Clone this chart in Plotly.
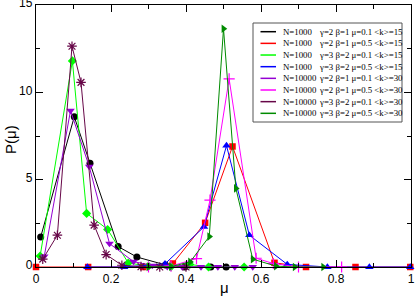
import plotly.graph_objects as go

# ---------------- data ----------------
x_black = [0.0125, 0.102, 0.144, 0.219, 0.269, 0.345, 0.397, 0.466, 0.507]
y_black = [1.72, 8.6, 5.94, 1.17, 0.57, 0.12, 0.0, 0.0, 0.0]

x_red = [0.0, 0.139, 0.286, 0.365, 0.451, 0.524, 0.636, 0.72, 0.852, 0.998]
y_red = [0.0, 0.0, 0.0, 0.2, 2.53, 6.9, 0.24, 0.0, 0.0, 0.0]

x_lime = [0.011, 0.097, 0.135, 0.191, 0.246, 0.30, 0.36, 0.41, 0.46, 0.555]
y_lime = [0.63, 11.8, 3.07, 2.15, 0.23, 0.05, 0.02, 0.15, 0.0, 0.0]

x_blue = [0.137, 0.235, 0.344, 0.448, 0.508, 0.569, 0.670, 0.777, 0.889, 0.998]
y_blue = [0.0, 0.0, 0.18, 2.3, 6.95, 1.82, 0.15, 0.0, 0.0, 0.0]

x_violet = [0.022, 0.092, 0.142, 0.196, 0.26, 0.31, 0.35, 0.39, 0.44, 0.485, 0.53, 0.578]
y_violet = [0.61, 8.95, 5.75, 1.34, 0.31, 0.08, 0.02, 0.0, 0.0, 0.0, 0.0, 0.0]

x_magenta = [0.30, 0.36, 0.428, 0.464, 0.515, 0.587, 0.633, 0.70, 0.815]
y_magenta = [0.0, 0.05, 0.48, 3.83, 10.77, 0.5, 0.2, 0.0, 0.0]

x_maroon = [0.018, 0.057, 0.096, 0.120, 0.155, 0.187, 0.229, 0.28, 0.33, 0.40]
y_maroon = [0.45, 1.82, 12.64, 10.57, 2.4, 0.71, 0.1, 0.02, 0.0, 0.0]

x_green4 = [0.30, 0.36, 0.411, 0.462, 0.500, 0.533, 0.578, 0.64, 0.69, 0.766]
y_green4 = [0.0, 0.02, 0.29, 1.74, 13.64, 4.5, 0.45, 0.05, 0.0, 0.0]

labels_n = ["N=1000", "N=1000", "N=1000", "N=1000",
            "N=10000", "N=10000", "N=10000", "N=10000"]
labels_p = ["γ=2 β=1 μ=0.1 <k>=15", "γ=2 β=1 μ=0.5 <k>=15",
            "γ=3 β=2 μ=0.1 <k>=15", "γ=3 β=2 μ=0.5 <k>=15",
            "γ=2 β=1 μ=0.1 <k>=30", "γ=2 β=1 μ=0.5 <k>=30",
            "γ=3 β=2 μ=0.1 <k>=30", "γ=3 β=2 μ=0.5 <k>=30"]

xs = [x_black, x_red, x_lime, x_blue, x_violet, x_magenta, x_maroon, x_green4]
ys = [y_black, y_red, y_lime, y_blue, y_violet, y_magenta, y_maroon, y_green4]

colors = ["#000000", "#ff0000", "#00ff00", "#0000ff",
          "#9400d3", "#ff00ff", "#670748", "#008b00"]
symbols = ["circle", "square", "diamond", "triangle-up",
           "triangle-down", "cross-thin-open", "asterisk-open", "triangle-right"]
sizes = [7, 6.5, 7, 7.5, 7.5, 8, 8, 7.5]

# ---------------- geometry ----------------
W, H = 415, 296
L, R, T, B = 36, 4, 5, 29
PW, PH = W - L - R, H - T - B


def fx(px):
    return (px - L) / PW


def fy(py):
    return (H - B - py) / PH


fig = go.Figure()

for i in range(8):
    is_line_sym = symbols[i] in ("cross-thin-open", "asterisk-open")
    fig.add_trace(go.Scatter(
        x=xs[i], y=ys[i], mode="lines+markers", showlegend=False,
        cliponaxis=False,
        line=dict(color=colors[i], width=1),
        marker=dict(symbol=symbols[i], size=sizes[i], color=colors[i],
                    line=dict(color=colors[i], width=1.2 if is_line_sym else 0)),
    ))

# ---------------- custom compact legend ----------------
row0, dy = 31.7, 11.66
gx0, gx1 = 260.5, 276.0
LEG_FONT = dict(family="Liberation Serif", size=8.8, color="black")
shapes = [dict(type="rect", xref="paper", yref="paper",
               x0=fx(253), x1=fx(402), y0=fy(122), y1=fy(23),
               line=dict(color="#555555", width=1), fillcolor="white", layer="above")]
annotations = []
for i in range(8):
    py = row0 + dy * i
    is_line_sym = symbols[i] in ("cross-thin-open", "asterisk-open")
    shapes.append(dict(type="line", xref="paper", yref="paper",
                       x0=fx(gx0), x1=fx(gx1), y0=fy(py), y1=fy(py),
                       line=dict(color=colors[i], width=1.5), layer="above"))
    fig.add_trace(go.Scatter(
        x=[fx(gx0), fx(gx1)], y=[fy(py), fy(py)], xaxis="x2", yaxis="y2",
        mode="markers", showlegend=False, cliponaxis=False, hoverinfo="skip",
        marker=dict(symbol=symbols[i], size=sizes[i], color=colors[i],
                    line=dict(color=colors[i], width=1.2 if is_line_sym else 0)),
    ))
    annotations.append(dict(xref="paper", yref="paper", x=fx(280.5), y=fy(py),
                            xanchor="left", yanchor="middle", showarrow=False,
                            text=labels_n[i], font=LEG_FONT))
    annotations.append(dict(xref="paper", yref="paper", x=fx(317), y=fy(py),
                            xanchor="left", yanchor="middle", showarrow=False,
                            text=labels_p[i], font=LEG_FONT))

# axis titles as annotations for precise placement
TITLE_FONT = dict(family="Liberation Sans", size=15, color="black")
annotations.append(dict(xref="paper", yref="paper", x=fx(224), y=fy(287),
                        xanchor="center", yanchor="middle", showarrow=False,
                        text="μ", font=TITLE_FONT))
annotations.append(dict(xref="paper", yref="paper", x=fx(10), y=fy(140),
                        xanchor="center", yanchor="middle", showarrow=False,
                        text="P(μ)", textangle=-90, font=TITLE_FONT))

axis_common = dict(showline=True, linecolor="black", linewidth=1.3, mirror="allticks",
                   ticks="inside", ticklen=7, tickwidth=1, tickcolor="black",
                   showgrid=False, zeroline=False, ticklabeloverflow="allow",
                   automargin=False,
                   tickfont=dict(family="Liberation Sans", size=12, color="black"))

fig.update_layout(
    width=W, height=H, margin=dict(l=L, r=R, t=T, b=B, autoexpand=False),
    plot_bgcolor="white", paper_bgcolor="white",
    xaxis=dict(range=[0, 1], tickvals=[0, 0.2, 0.4, 0.6, 0.8, 1],
               ticktext=["0", "0.2", "0.4", "0.6", "0.8", "1"],
               minor=dict(tickvals=[0.1, 0.3, 0.5, 0.7, 0.9], ticks="inside",
                          ticklen=4, tickcolor="black"),
               **axis_common),
    yaxis=dict(range=[0, 15], tickvals=[0, 5, 10, 15], ticklabelshift=-2,
               minor=dict(tickvals=[2.5, 7.5, 12.5], ticks="inside",
                          ticklen=4, tickcolor="black"),
               **axis_common),
    xaxis2=dict(overlaying="x", range=[0, 1], visible=False, anchor="y2"),
    yaxis2=dict(overlaying="y", range=[0, 1], visible=False, anchor="x2"),
    shapes=shapes,
    annotations=annotations,
)

fig.write_html("out.html", config={"displayModeBar": False},
               post_script="document.body.style.margin='0';"
                           "document.body.style.overflow='hidden';")
